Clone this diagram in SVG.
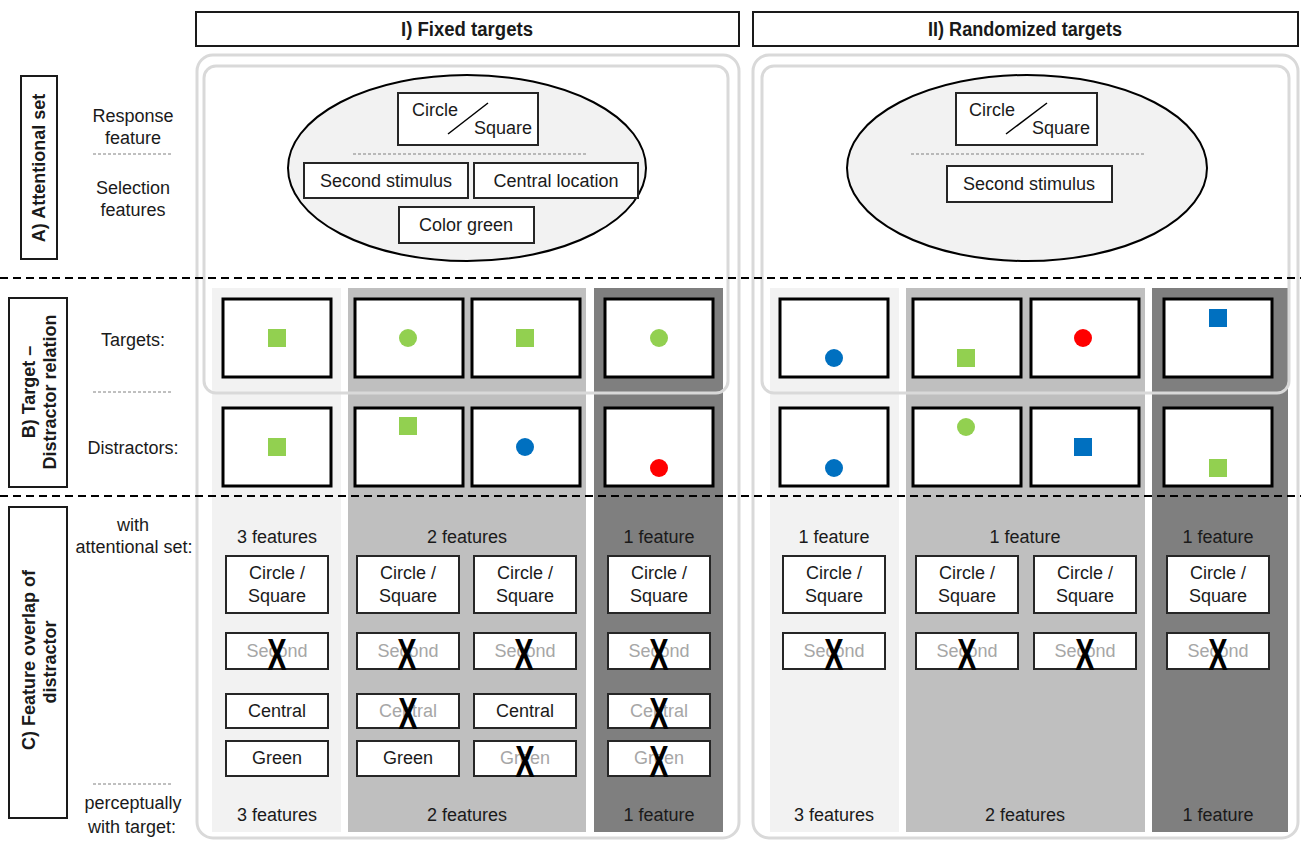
<svg xmlns="http://www.w3.org/2000/svg" width="1301" height="841" viewBox="0 0 1301 841">
<style>
text{font-family:"Liberation Sans",Arial,sans-serif;font-size:18px;fill:#1a1a1a;text-anchor:middle}
.b{font-weight:bold}
.h{font-weight:bold;font-size:20px}
.g{fill:#a6a6a6}
.box{fill:#fff;stroke:#1a1a1a;stroke-width:2}
.frame{fill:none;stroke:#d9d9d9;stroke-width:3}
.stim{fill:#fff;stroke:#000;stroke-width:3}
.fb{fill:#fff;stroke:#262626;stroke-width:2}
.x{font-size:44px;font-weight:bold;fill:#000}
.sd{stroke:#808080;stroke-width:1;stroke-dasharray:3 2;fill:none}
.div{stroke:#000;stroke-width:1.8;stroke-dasharray:8 5;fill:none}
.ell{fill:#f2f2f2;stroke:#000;stroke-width:2}
.gr{fill:#92d050}.bl{fill:#0070c0}.rd{fill:#ff0000}
.c1{fill:#f2f2f2}.c2{fill:#bfbfbf}.c3{fill:#7f7f7f}
</style>
<rect width="1301" height="841" fill="#fff"/>

<!-- column backgrounds -->
<g id="columns">
<rect class="c1" x="212" y="288" width="129" height="544"/>
<rect class="c2" x="348" y="288" width="238" height="544"/>
<rect class="c3" x="594" y="288" width="129" height="544"/>
<rect class="c1" x="770" y="288" width="129" height="544"/>
<rect class="c2" x="906" y="288" width="239" height="544"/>
<rect class="c3" x="1152" y="288" width="136" height="544"/>
</g>

<!-- frames -->
<g id="frames">
<rect class="frame" x="197" y="55" width="542" height="783" rx="16"/>
<rect class="frame" x="204" y="66" width="524" height="327" rx="12"/>
<rect class="frame" x="753" y="55" width="545" height="783" rx="16"/>
<rect class="frame" x="762" y="66" width="527" height="327" rx="12"/>
</g>

<!-- headers -->
<g id="header-fixed">
<rect class="box" x="196" y="12" width="543" height="34"/>
<text class="h" x="467" y="36" textLength="132" lengthAdjust="spacingAndGlyphs">I) Fixed targets</text>
</g>
<g id="header-random">
<rect class="box" x="753" y="12" width="545" height="34"/>
<text class="h" x="1025" y="36" textLength="194" lengthAdjust="spacingAndGlyphs">II) Randomized targets</text>
</g>

<!-- left section labels -->
<g id="label-A">
<rect class="box" x="21" y="76" width="36" height="183"/>
<text class="b" transform="translate(39,168) rotate(-90)" dy="0.35em">A) Attentional set</text>
</g>
<g id="label-B">
<rect class="box" x="9" y="298" width="58" height="189"/>
<text class="b" transform="translate(29,392) rotate(-90)" dy="0.35em">B) Target –</text>
<text class="b" transform="translate(50,392) rotate(-90)" dy="0.35em">Distractor relation</text>
</g>
<g id="label-C">
<rect class="box" x="9" y="507" width="58" height="311"/>
<text class="b" transform="translate(29,660) rotate(-90)" dy="0.35em">C) Feature overlap of</text>
<text class="b" transform="translate(50,662) rotate(-90)" dy="0.35em">distractor</text>
</g>

<!-- row labels -->
<g id="row-labels">
<text x="133" y="122">Response</text>
<text x="133" y="144">feature</text>
<line class="sd" x1="93" y1="154" x2="173" y2="154"/>
<text x="133" y="194">Selection</text>
<text x="133" y="216">features</text>
<text x="133" y="346">Targets:</text>
<line class="sd" x1="93" y1="392" x2="173" y2="392"/>
<text x="133" y="454">Distractors:</text>
<text x="133" y="531">with</text>
<text x="134" y="553">attentional set:</text>
<line class="sd" x1="93" y1="784" x2="173" y2="784"/>
<text x="133" y="809">perceptually</text>
<text x="132" y="833">with target:</text>
</g>

<!-- attentional set ellipses -->
<g id="set-fixed">
<ellipse class="ell" cx="467" cy="168" rx="179" ry="93"/>
<rect class="fb" x="398" y="93" width="140" height="52"/>
<text x="435" y="116">Circle</text>
<line x1="448" y1="134" x2="488" y2="103" stroke="#000" stroke-width="1.5"/>
<text x="503" y="134">Square</text>
<line class="sd" x1="353" y1="154" x2="587" y2="154"/>
<rect class="fb" x="304" y="163" width="164" height="35"/>
<text x="386" y="187">Second stimulus</text>
<rect class="fb" x="474" y="163" width="164" height="35"/>
<text x="556" y="187">Central location</text>
<rect class="fb" x="399" y="207" width="135" height="36"/>
<text x="466" y="231">Color green</text>
</g>
<g id="set-random">
<ellipse class="ell" cx="1027" cy="168" rx="180" ry="93"/>
<rect class="fb" x="956" y="93" width="141" height="52"/>
<text x="992" y="116">Circle</text>
<line x1="1006" y1="134" x2="1047" y2="103" stroke="#000" stroke-width="1.5"/>
<text x="1061" y="134">Square</text>
<line class="sd" x1="911" y1="154" x2="1145" y2="154"/>
<rect class="fb" x="947" y="166" width="165" height="36"/>
<text x="1029" y="190">Second stimulus</text>
</g>

<!-- stimulus displays: fixed -->
<g id="fixed-targets">
<rect class="stim" x="223" y="299" width="108" height="78"/>
<rect class="gr" x="268" y="329" width="18" height="18"/>
<rect class="stim" x="355" y="299" width="108" height="78"/>
<circle class="gr" cx="408" cy="338" r="9"/>
<rect class="stim" x="472" y="299" width="108" height="78"/>
<rect class="gr" x="516" y="329" width="18" height="18"/>
<rect class="stim" x="605" y="299" width="108" height="78"/>
<circle class="gr" cx="659" cy="338" r="9"/>
</g>
<g id="fixed-distractors">
<rect class="stim" x="223" y="408" width="108" height="78"/>
<rect class="gr" x="268" y="438" width="18" height="18"/>
<rect class="stim" x="355" y="408" width="108" height="78"/>
<rect class="gr" x="399" y="417" width="18" height="18"/>
<rect class="stim" x="472" y="408" width="108" height="78"/>
<circle class="bl" cx="525" cy="447" r="9"/>
<rect class="stim" x="605" y="408" width="108" height="78"/>
<circle class="rd" cx="659" cy="468" r="9"/>
</g>
<!-- stimulus displays: randomized -->
<g id="random-targets">
<rect class="stim" x="780" y="299" width="108" height="78"/>
<circle class="bl" cx="834" cy="358" r="9"/>
<rect class="stim" x="913" y="299" width="108" height="78"/>
<rect class="gr" x="957" y="349" width="18" height="18"/>
<rect class="stim" x="1031" y="299" width="108" height="78"/>
<circle class="rd" cx="1083" cy="338" r="9"/>
<rect class="stim" x="1164" y="299" width="108" height="78"/>
<rect class="bl" x="1209" y="309" width="18" height="18"/>
</g>
<g id="random-distractors">
<rect class="stim" x="780" y="408" width="108" height="78"/>
<circle class="bl" cx="834" cy="468" r="9"/>
<rect class="stim" x="913" y="408" width="108" height="78"/>
<circle class="gr" cx="966" cy="427" r="9"/>
<rect class="stim" x="1031" y="408" width="108" height="78"/>
<rect class="bl" x="1074" y="438" width="18" height="18"/>
<rect class="stim" x="1164" y="408" width="108" height="78"/>
<rect class="gr" x="1209" y="459" width="18" height="18"/>
</g>

<!-- feature overlap counts -->
<g id="counts">
<text x="277" y="543">3 features</text>
<text x="467" y="543">2 features</text>
<text x="659" y="543">1 feature</text>
<text x="834" y="543">1 feature</text>
<text x="1025" y="543">1 feature</text>
<text x="1218" y="543">1 feature</text>
<text x="277" y="821">3 features</text>
<text x="467" y="821">2 features</text>
<text x="659" y="821">1 feature</text>
<text x="834" y="821">3 features</text>
<text x="1025" y="821">2 features</text>
<text x="1218" y="821">1 feature</text>
</g>

<!-- feature boxes: fixed -->
<g id="feat-f1" transform="translate(277,0)">
<rect class="fb" x="-51" y="556" width="102" height="57"/>
<text x="0" y="579">Circle /</text><text x="0" y="602">Square</text>
<rect class="fb" x="-51" y="633" width="102" height="36"/>
<text class="g" x="0" y="657">Second</text>
<text class="x" transform="translate(0,670) scale(0.66,1)">X</text>
<rect class="fb" x="-51" y="694" width="102" height="34"/>
<text x="0" y="717">Central</text>
<rect class="fb" x="-51" y="741" width="102" height="35"/>
<text x="0" y="764">Green</text>
</g>
<g id="feat-f2a" transform="translate(408,0)">
<rect class="fb" x="-51" y="556" width="102" height="57"/>
<text x="0" y="579">Circle /</text><text x="0" y="602">Square</text>
<rect class="fb" x="-51" y="633" width="102" height="36"/>
<text class="g" x="0" y="657">Second</text>
<text class="x" transform="translate(-1,670) scale(0.66,1)">X</text>
<rect class="fb" x="-51" y="694" width="102" height="34"/>
<text class="g" x="0" y="717">Central</text>
<text class="x" transform="translate(0,729) scale(0.66,1)">X</text>
<rect class="fb" x="-51" y="741" width="102" height="35"/>
<text x="0" y="764">Green</text>
</g>
<g id="feat-f2b" transform="translate(525,0)">
<rect class="fb" x="-51" y="556" width="102" height="57"/>
<text x="0" y="579">Circle /</text><text x="0" y="602">Square</text>
<rect class="fb" x="-51" y="633" width="102" height="36"/>
<text class="g" x="0" y="657">Second</text>
<text class="x" transform="translate(-1,670) scale(0.66,1)">X</text>
<rect class="fb" x="-51" y="694" width="102" height="34"/>
<text x="0" y="717">Central</text>
<rect class="fb" x="-51" y="741" width="102" height="35"/>
<text class="g" x="0" y="764">Green</text>
<text class="x" transform="translate(0,777) scale(0.66,1)">X</text>
</g>
<g id="feat-f3" transform="translate(659,0)">
<rect class="fb" x="-51" y="556" width="102" height="57"/>
<text x="0" y="579">Circle /</text><text x="0" y="602">Square</text>
<rect class="fb" x="-51" y="633" width="102" height="36"/>
<text class="g" x="0" y="657">Second</text>
<text class="x" transform="translate(0,670) scale(0.66,1)">X</text>
<rect class="fb" x="-51" y="694" width="102" height="34"/>
<text class="g" x="0" y="717">Central</text>
<text class="x" transform="translate(0,729) scale(0.66,1)">X</text>
<rect class="fb" x="-51" y="741" width="102" height="35"/>
<text class="g" x="0" y="764">Green</text>
<text class="x" transform="translate(0,777) scale(0.66,1)">X</text>
</g>

<!-- feature boxes: randomized -->
<g id="feat-r1" transform="translate(834,0)">
<rect class="fb" x="-51" y="556" width="102" height="57"/>
<text x="0" y="579">Circle /</text><text x="0" y="602">Square</text>
<rect class="fb" x="-51" y="633" width="102" height="36"/>
<text class="g" x="0" y="657">Second</text>
<text class="x" transform="translate(0,670) scale(0.66,1)">X</text>
</g>
<g id="feat-r2a" transform="translate(967,0)">
<rect class="fb" x="-51" y="556" width="102" height="57"/>
<text x="0" y="579">Circle /</text><text x="0" y="602">Square</text>
<rect class="fb" x="-51" y="633" width="102" height="36"/>
<text class="g" x="0" y="657">Second</text>
<text class="x" transform="translate(0,670) scale(0.66,1)">X</text>
</g>
<g id="feat-r2b" transform="translate(1085,0)">
<rect class="fb" x="-51" y="556" width="102" height="57"/>
<text x="0" y="579">Circle /</text><text x="0" y="602">Square</text>
<rect class="fb" x="-51" y="633" width="102" height="36"/>
<text class="g" x="0" y="657">Second</text>
<text class="x" transform="translate(0,670) scale(0.66,1)">X</text>
</g>
<g id="feat-r3" transform="translate(1218,0)">
<rect class="fb" x="-51" y="556" width="102" height="57"/>
<text x="0" y="579">Circle /</text><text x="0" y="602">Square</text>
<rect class="fb" x="-51" y="633" width="102" height="36"/>
<text class="g" x="0" y="657">Second</text>
<text class="x" transform="translate(0,670) scale(0.66,1)">X</text>
</g>

<!-- connectors / dividers -->
<g id="connectors">
<line class="div" x1="0" y1="278" x2="1301" y2="278"/>
<line class="div" x1="0" y1="496" x2="1301" y2="496"/>
</g>
</svg>
